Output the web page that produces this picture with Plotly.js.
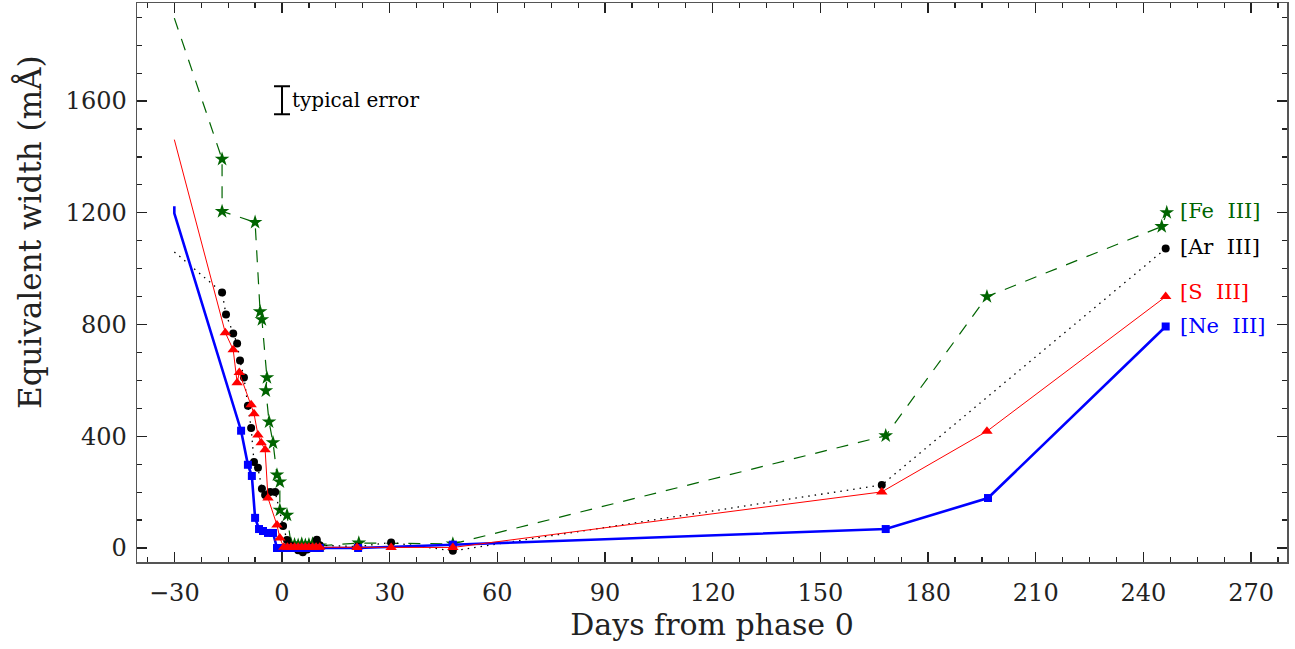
<!DOCTYPE html>
<html>
<head>
<meta charset="utf-8">
<script src="https://cdn.plot.ly/plotly-3.0.1.min.js"></script>
<style>html,body{margin:0;padding:0;background:#fff;}#chart{width:1295px;height:649px;}</style>
</head>
<body>
<div id="chart"></div>
<script>
// Line start (extrapolated, drawn without symbol) at day -30
const startDay = -30;
const feStart = [1897];
const arStart = [1060];
const sStart = [1462];
const neStart = [1223, 1198];

// [Fe III]
const feDays = [-16.7, -16.7, -7.5, -6.1, -5.6, -4.2, -4.5, -3.6, -2.5, -1.4, -0.6, -0.6, 1.4, 2.5, 3.5, 4.5, 5.5, 6.5, 7.5, 8.5, 9.5, 10.5, 21.4, 47.6, 168.2, 196.4, 245.1, 246.5];
const feEW   = [1392, 1205, 1166, 846, 818, 610, 563, 452, 377, 262, 237, 136, 118, 15, 12, 10, 15, 10, 12, 15, 10, 8, 18, 15, 402, 900, 1151, 1201];

// [Ar III]
const arDays = [-16.7, -15.6, -13.6, -12.5, -11.7, -10.6, -9.5, -8.6, -7.8, -6.7, -5.6, -4.7, -3.3, -1.9, 0.3, 1.4, 2.5, 3.5, 4.5, 5.8, 7.0, 8.0, 9.7, 10.5, 21.0, 30.4, 47.6, 167.1, 246.2];
const arEW   = [915, 836, 768, 732, 671, 610, 509, 430, 308, 287, 212, 190, 201, 201, 79, 29, 8, 0, -8, -15, -5, 5, 30, 10, 5, 20, -10, 226, 1072];

// [S III]
const sDays = [-15.8, -13.6, -12.5, -11.9, -8.6, -7.8, -6.7, -5.8, -4.7, -3.9, -1.4, -0.6, 0.5, 1.5, 2.5, 3.5, 4.5, 5.5, 6.5, 7.5, 8.5, 9.5, 10.5, 20.9, 30.4, 47.6, 167.1, 196.4, 246.2];
const sEW   = [771, 710, 592, 628, 513, 481, 405, 377, 352, 179, 82, 36, 3, 3, 3, 3, 3, 3, 3, 3, 3, 3, 3, 2, 2, 2, 201, 418, 900];

// [Ne III]
const neDays = [-11.4, -9.5, -8.4, -7.5, -6.4, -5.3, -3.9, -2.5, -1.4, 0.5, 1.5, 2.5, 3.5, 4.5, 5.5, 6.5, 7.5, 8.5, 9.5, 10.5, 21.2, 47.6, 168.2, 196.7, 246.2];
const neEW   = [420, 298, 258, 108, 68, 61, 54, 54, 0, 0, 0, 0, 0, 0, 0, 0, 0, 0, 0, 0, 0, 12, 68, 179, 793];

// Typical error bar
const errDay = [0];
const errEW = [1603];
const errHalf = [50];

const labels = ['[Fe\u00a0 III]', '[Ar\u00a0 III]', '[S\u00a0 III]', '[Ne\u00a0 III]'];
const labelDay = 249.5;
const labelEW = [1205, 1076, 915, 795];

const FONT = 'DejaVu Serif';
const colors = {fe: '#006400', ar: '#000000', s: '#ff0000', ne: '#0000ff'};

function series(start, days, ew, color, symbol, msize, line, name) {
  const x = start.map(() => startDay).concat(days);
  const sizes = start.map(() => 0).concat(days.map(() => msize));
  return {
    type: 'scatter', mode: 'lines+markers', name: name,
    x: x, y: start.concat(ew),
    line: line,
    marker: {symbol: symbol, size: sizes, color: color, opacity: 1, line: {width: 0}},
    showlegend: false, hoverinfo: 'x+y'
  };
}

const traces = [
  series(feStart, feDays, feEW, colors.fe, 'star', 11, {color: colors.fe, width: 1.2, dash: '12px,10px'}, labels[0]),
  series(arStart, arDays, arEW, colors.ar, 'circle', 8, {color: colors.ar, width: 1.3, dash: '1.5px,5px'}, labels[1]),
  series(neStart, neDays, neEW, colors.ne, 'square', 8, {color: colors.ne, width: 2.6}, labels[3]),
  series(sStart, sDays, sEW, colors.s, 'triangle-up', 10, {color: colors.s, width: 1}, labels[2]),
  {
    type: 'scatter', mode: 'markers', x: errDay, y: errEW,
    marker: {size: 0.1, color: 'rgba(0,0,0,0)'},
    error_y: {type: 'data', array: errHalf, visible: true, color: '#000', thickness: 2, width: 8},
    showlegend: false, hoverinfo: 'skip'
  }
];

const annotations = labels.map((t, i) => ({
  x: labelDay, y: labelEW[i], xref: 'x', yref: 'y', text: t, showarrow: false,
  xanchor: 'left', yanchor: 'middle',
  font: {family: FONT, size: 21, color: [colors.fe, colors.ar, colors.s, colors.ne][i]}
}));
annotations.push({
  x: errDay[0], y: errEW[0], xref: 'x', yref: 'y', text: 'typical error', showarrow: false,
  xanchor: 'left', yanchor: 'middle', xshift: 8,
  font: {family: FONT, size: 20, color: '#000'}
});
annotations.push({
  xref: 'paper', yref: 'paper', x: -0.094, y: 1 - (232 - 3) / 559,
  text: 'Equivalent width (mÅ)', showarrow: false, textangle: -90,
  xanchor: 'center', yanchor: 'middle',
  font: {family: FONT, size: 31, color: '#222'}
});

const axisCommon = {
  showgrid: false, zeroline: false, showline: true, linecolor: '#555', linewidth: 1.5,
  mirror: 'allticks', ticks: 'inside', ticklen: 10, tickwidth: 1.3, tickcolor: '#222',
  tickfont: {family: FONT, size: 24, color: '#222'}
};

const layout = {
  width: 1295, height: 649,
  margin: {l: 137, r: 8, t: 3, b: 87},
  paper_bgcolor: '#fff', plot_bgcolor: '#fff',
  xaxis: Object.assign({}, axisCommon, {
    range: [-40.4, 280], tick0: 0, dtick: 30,
    minor: {dtick: 7.5, ticks: 'inside', ticklen: 5, tickcolor: '#222', tickwidth: 1.2},
    ticklabelstandoff: 9,
    title: {text: 'Days from phase 0', font: {family: FONT, size: 30, color: '#222'}, standoff: 5}
  }),
  yaxis: Object.assign({}, axisCommon, {
    range: [-50, 1951], tick0: 0, dtick: 400,
    minor: {dtick: 100, ticks: 'inside', ticklen: 5, tickcolor: '#222', tickwidth: 1.2},
    ticklabelstandoff: 4
  }),
  annotations: annotations
};

Plotly.newPlot('chart', traces, layout, {displayModeBar: false, staticPlot: true});
</script>
</body>
</html>
